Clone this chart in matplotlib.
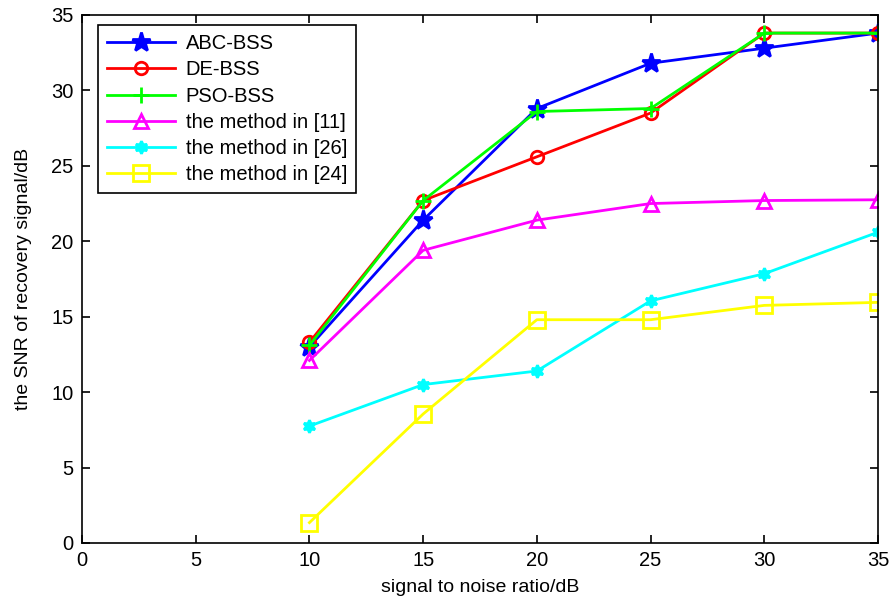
import numpy as np
import matplotlib.pyplot as plt

plt.rcParams['font.family'] = ['Liberation Sans', 'DejaVu Sans']

# SNR values read per method
snr_in = [10, 15, 20, 25, 30, 35]
abc_bss = [13.0, 21.4, 28.8, 31.8, 32.8, 33.8]
de_bss = [13.3, 22.7, 25.6, 28.5, 33.8, 33.8]
pso_bss = [13.1, 22.7, 28.6, 28.8, 33.8, 33.8]
method_11 = [12.1, 19.4, 21.4, 22.5, 22.7, 22.75]
method_26 = [7.75, 10.5, 11.4, 16.05, 17.85, 20.6]
method_24 = [1.35, 8.55, 14.8, 14.8, 15.75, 15.95]

labels = ['ABC-BSS', 'DE-BSS', 'PSO-BSS', 'the method in [11]',
          'the method in [26]', 'the method in [24]']
series = [abc_bss, de_bss, pso_bss, method_11, method_26, method_24]
colors = ['#0000ff', '#ff0000', '#00ff00', '#ff00ff', '#00ffff', '#ffff00']
markers = ['*', 'o', '+', '^', (6, 1, 0), 's']
msizes = [14, 9, 12, 10, 9, 11]

fig = plt.figure(figsize=(8.94, 5.99), dpi=100)
ax = fig.add_axes([0.0917, 0.0935, 0.8904, 0.8815])

for y, lab, c, m, ms in zip(series, labels, colors, markers, msizes):
    filled = c if m in ('*', (6, 1, 0)) else 'none'
    ax.plot(snr_in, y, '-', color=c, lw=2, marker=m, ms=ms,
            mfc=filled, mec=c, mew=2, label=lab)

ax.set_xlim(0, 35)
ax.set_ylim(0, 35)
ax.set_xticks(np.arange(0, 36, 5))
ax.set_yticks(np.arange(0, 36, 5))
ax.tick_params(direction='in', top=True, right=True, length=6, width=1.2,
               labelsize=14.5, pad=6)
for s in ax.spines.values():
    s.set_linewidth(1.2)
ax.set_xlabel('signal to noise ratio/dB', fontsize=14, labelpad=6)
ax.set_ylabel('the SNR of recovery signal/dB', fontsize=14, labelpad=14)

leg = ax.legend(loc='upper left', bbox_to_anchor=(0.02, 0.981),
                borderaxespad=0, fontsize=14.5, handlelength=3.4,
                labelspacing=0.36, fancybox=False, framealpha=1,
                edgecolor='black', handletextpad=0.5, borderpad=0.45)
leg.get_frame().set_linewidth(1.2)

fig.savefig('out.png', dpi=100)
